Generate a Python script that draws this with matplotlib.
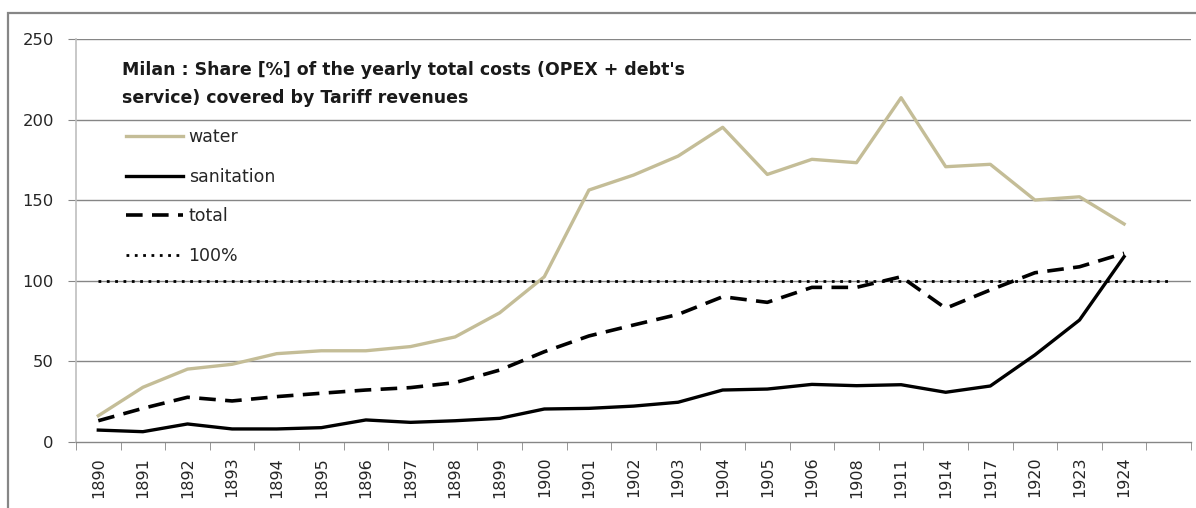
import matplotlib
matplotlib.use("Agg")
import matplotlib.pyplot as plt
from matplotlib.patches import Rectangle

years = ["1890", "1891", "1892", "1893", "1894", "1895", "1896", "1897", "1898",
         "1899", "1900", "1901", "1902", "1903", "1904", "1905", "1906", "1908",
         "1911", "1914", "1917", "1920", "1923", "1924", ""]
water = [16, 33.7, 45, 48, 54.6, 56.4, 56.4, 59, 65, 80, 102.4, 156.3, 165.6,
         177.4, 195.3, 166, 175.4, 173.3, 213.7, 170.8, 172.3, 150.1, 152.1, 135.2]
sanitation = [7.1, 6.1, 10.9, 7.8, 7.8, 8.6, 13.4, 11.9, 12.9, 14.4, 20.2, 20.6,
              22, 24.4, 32, 32.6, 35.5, 34.7, 35.3, 30.6, 34.5, 53.8, 75.5, 114.9]
total = [12.9, 20.6, 27.5, 25.2, 27.9, 30, 32, 33.5, 36.6, 44.4, 55.8, 65.6, 72.4,
         79, 90, 86.5, 95.8, 95.8, 102.4, 82.8, 94.2, 104.9, 108.6, 117]
reference = [100] * len(years)

plt.rcParams['font.family'] = ['DejaVu Sans']

W, H = 1196, 508
fig = plt.figure(figsize=(W / 100, H / 100), dpi=100)
ax = fig.add_axes([76 / W, 1 - 441.5 / H, (1191 - 76) / W, (441.5 - 39.3) / H])

# outer chart frame
fig.patches.append(Rectangle((8 / W, -0.1), 1.2, 1 - 13 / H + 0.1,
                             transform=fig.transFigure, fill=False,
                             edgecolor='#868686', linewidth=1.6))

x_all = list(range(len(years)))
x = x_all[:len(water)]

grid_c = '#868686'
text_c = '#262626'
for v in range(50, 251, 50):
    ax.axhline(v, color=grid_c, linewidth=1.0, zorder=0)

ax.plot(x, water, color='#C4BD97', linewidth=2.4, label='water', zorder=3)
ax.plot(x, sanitation, color='black', linewidth=2.4, label='sanitation', zorder=3)
ax.plot(x, total, color='black', linewidth=2.6, linestyle=(0, (4.6, 2.6)),
        label='total', zorder=3)
ax.plot(x_all, reference, color='black', linewidth=2.0, linestyle=(0, (1, 2)),
        label='100%', zorder=3)

ax.set_xlim(-0.5, len(years) - 0.5)
ax.set_ylim(0, 250)
ax.set_yticks(range(0, 251, 50))
ax.tick_params(axis='y', length=6, color=grid_c, labelsize=11.8, pad=10,
               labelcolor=text_c)

ax.set_xticks(x_all)
ax.set_xticklabels(years, rotation=90, fontsize=11.5, color=text_c)
ax.set_xticks([i - 0.5 for i in range(len(years) + 1)], minor=True)
ax.tick_params(axis='x', which='major', length=0, pad=11)
ax.tick_params(axis='x', which='minor', length=6, color=grid_c)

for s in ['top', 'right']:
    ax.spines[s].set_visible(False)
ax.spines['left'].set_color('#BFBFBF')
ax.spines['left'].set_linewidth(1.2)
ax.spines['bottom'].set_color(grid_c)
ax.spines['bottom'].set_linewidth(1.0)

fig.text(122 / W, 1 - 61 / H,
         "Milan : Share [%] of the yearly total costs (OPEX + debt's\n"
         "service) covered by Tariff revenues",
         fontsize=12.5, fontweight='bold', va='top', ha='left',
         linespacing=1.7, color='#1a1a1a')

leg = ax.legend(loc='upper left', bbox_to_anchor=(120 / W, 1 - 122 / H),
                bbox_transform=fig.transFigure, frameon=False,
                fontsize=12.5, handlelength=3.3, handletextpad=0.3,
                labelspacing=1.25, borderaxespad=0, borderpad=0.35)
for t in leg.get_texts():
    t.set_color(text_c)

fig.savefig('out.png', dpi=100)
